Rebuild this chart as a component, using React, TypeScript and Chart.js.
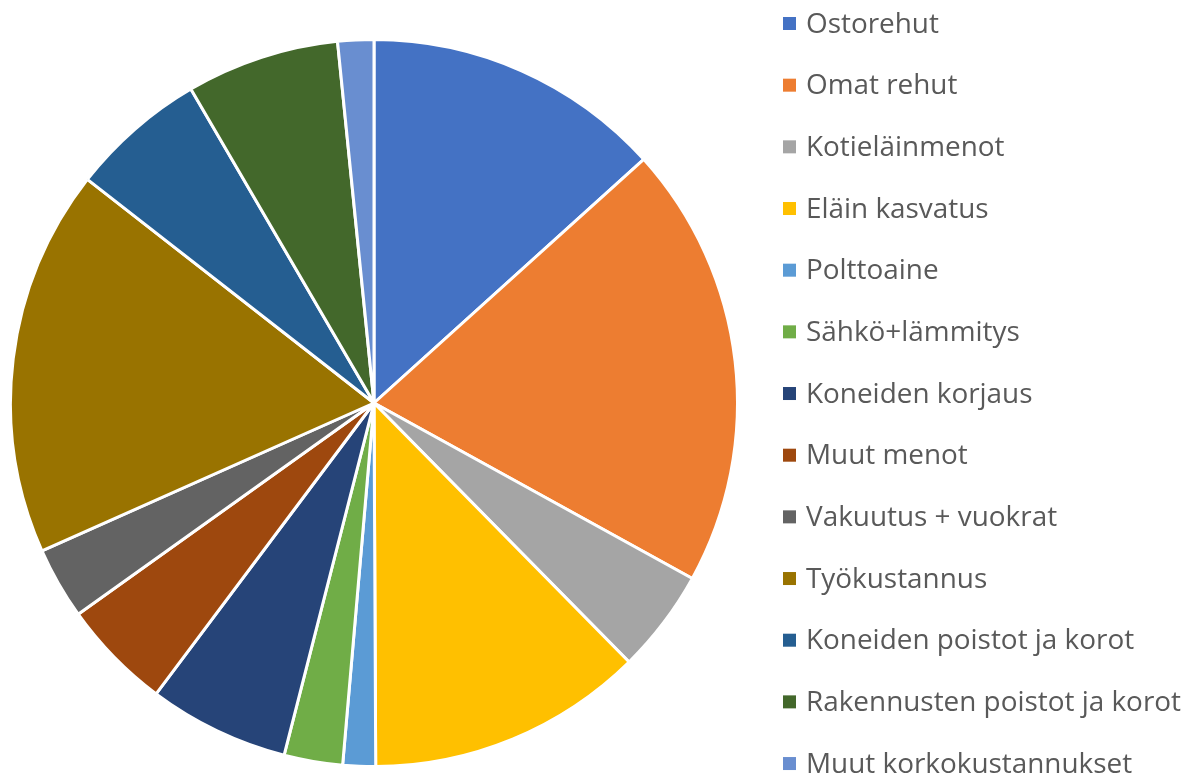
import React, { useEffect, useRef } from "react";
import { Chart, registerables } from "chart.js";

Chart.register(...registerables);

const categories = [
  "Ostorehut",
  "Omat rehut",
  "Kotieläinmenot",
  "Eläin kasvatus",
  "Polttoaine",
  "Sähkö+lämmitys",
  "Koneiden korjaus",
  "Muut menot",
  "Vakuutus + vuokrat",
  "Työkustannus",
  "Koneiden poistot ja korot",
  "Rakennusten poistot ja korot",
  "Muut korkokustannukset",
];

const shares = [13.3, 19.7, 4.6, 12.3, 1.45, 2.6, 6.25, 4.9, 3.2, 17.2, 6.05, 6.8, 1.6];

const colors = [
  "#4472C4",
  "#ED7D31",
  "#A5A5A5",
  "#FFC000",
  "#5B9BD5",
  "#70AD47",
  "#264478",
  "#9E480E",
  "#636363",
  "#997300",
  "#255E91",
  "#43682B",
  "#698ED0",
];

const legendPlugin = {
  id: "sideLegend",
  afterDraw(chart: any) {
    const ctx = chart.ctx as CanvasRenderingContext2D;
    const labels = chart.data.labels as string[];
    const bg = chart.data.datasets[0].backgroundColor as string[];
    const x0 = 783;
    const y0 = 23.5;
    const step = 61.67;
    ctx.save();
    ctx.font = '27.9px "Open Sans"';
    ctx.textBaseline = "alphabetic";
    ctx.textAlign = "left";
    labels.forEach((lab, i) => {
      const cy = y0 + i * step;
      ctx.fillStyle = bg[i];
      ctx.fillRect(x0, cy - 6.5, 13, 13);
      ctx.fillStyle = "#595959";
      ctx.fillText(lab, 806, cy + 9);
    });
    ctx.restore();
  },
};

export default function App() {
  const ref = useRef<HTMLCanvasElement | null>(null);
  useEffect(() => {
    if (!ref.current) return;
    const chart = new Chart(ref.current, {
      type: "pie",
      data: {
        labels: categories,
        datasets: [
          {
            data: shares,
            backgroundColor: colors,
            borderColor: "#FFFFFF",
            borderWidth: 3,
          },
        ],
      },
      options: {
        responsive: false,
        animation: false,
        layout: { padding: { left: 9, top: 38, right: 447, bottom: 6 } },
        plugins: {
          legend: { display: false },
          tooltip: { enabled: false },
        },
      },
      plugins: [legendPlugin],
    });
    return () => chart.destroy();
  }, []);
  return (
    <div style={{ position: "absolute", left: 0, top: 0, width: 1186, height: 774, background: "#fff" }}>
      <canvas ref={ref} width={1186} height={774} />
    </div>
  );
}
